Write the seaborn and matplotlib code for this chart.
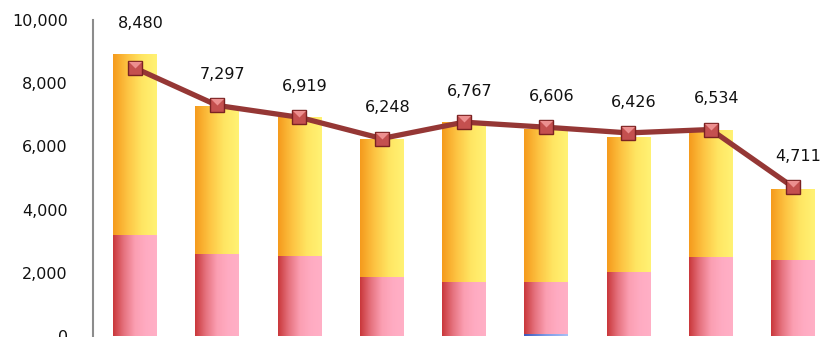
import numpy as np
import pandas as pd
import matplotlib
matplotlib.use("Agg")
import matplotlib.pyplot as plt
from matplotlib.colors import LinearSegmentedColormap
import seaborn as sns

# ---- data ----
periods = ["P1", "P2", "P3", "P4", "P5", "P6", "P7", "P8", "P9"]
base_part = [0, 0, 0, 0, 0, 60, 0, 0, 0]                       # blue, bottom
lower_part = [3180, 2580, 2540, 1870, 1700, 1630, 2020, 2490, 2410]  # red/pink
upper_part = [5750, 4700, 4400, 4350, 5060, 4870, 4270, 4030, 2250]  # orange/yellow
line_values = [8480, 7297, 6919, 6248, 6767, 6606, 6426, 6534, 4711]
y_ticks = [0, 2000, 4000, 6000, 8000, 10000]

sns.set_theme(style="white")
plt.rcParams["font.family"] = ["DejaVu Sans"]

fig = plt.figure(figsize=(8.28, 3.37), dpi=100)
ax = fig.add_axes([0.1123, 0.0036, 0.8877, 0.9368])

df = pd.DataFrame({
    "period": periods,
    "base": base_part,
    "lower": np.add(base_part, lower_part),
    "upper": np.add(np.add(base_part, lower_part), upper_part),
})

cmap_upper = LinearSegmentedColormap.from_list(
    "upper", ["#f59a1c", "#fdc443", "#ffe663", "#fff274"])
cmap_lower = LinearSegmentedColormap.from_list(
    "lower", ["#c9373a", "#e6737f", "#fb9fb2", "#ffabc2", "#ffb0c6"])
cmap_base = LinearSegmentedColormap.from_list(
    "base", ["#3d57b8", "#7b9ae6", "#a8c0f5"])

grad = np.linspace(0, 1, 256).reshape(1, -1)


def gradient_layer(column, cmap, z):
    n_before = len(ax.patches)
    sns.barplot(data=df, x="period", y=column, width=0.53, ax=ax,
                color="white", saturation=1, zorder=z, errorbar=None)
    for patch in ax.patches[n_before:]:
        h = patch.get_height()
        patch.set_facecolor("none")
        patch.set_edgecolor("none")
        if h <= 0:
            continue
        x0, w, y0 = patch.get_x(), patch.get_width(), patch.get_y()
        im = ax.imshow(grad, extent=[x0, x0 + w, y0, y0 + h],
                       cmap=cmap, aspect="auto", zorder=z,
                       interpolation="bicubic")
        im.set_clip_path(patch)


gradient_layer("upper", cmap_upper, 1)
gradient_layer("lower", cmap_lower, 2)
gradient_layer("base", cmap_base, 3)

# line with square markers
xpos = np.arange(len(periods))
sns.lineplot(x=xpos, y=line_values, ax=ax, color="#953735", linewidth=3.8,
             marker="s", markersize=10.5, markerfacecolor="#c4504f",
             markeredgecolor="#7a2222", markeredgewidth=1.0, zorder=5)
tri = [(-1, 1), (1, 1), (0, 0)]
ax.plot(xpos, line_values, linestyle="none", marker=tri, markersize=9.5,
        markerfacecolor="#ec8f8f", markeredgecolor="none", zorder=6)

# value labels
for i, v in enumerate(line_values):
    top = max(v, df["upper"].iloc[i])
    ax.annotate(f"{v:,}", xy=(i, top), xytext=(4, 22),
                textcoords="offset points", ha="center", va="center",
                fontsize=11.5, color="#111111", zorder=7)

ax.set_xlim(-0.511, 8.426)
ax.set_ylim(0, 10000)
ax.set_yticks(y_ticks)
ax.set_yticklabels([f"{t:,}" for t in y_ticks])
ax.tick_params(axis="y", length=0, pad=18, labelsize=11.5, colors="#111111")
ax.set_xticks([])
ax.set_xlabel("")
ax.set_ylabel("")
for side in ["top", "right", "bottom"]:
    ax.spines[side].set_visible(False)
ax.spines["left"].set_color("#8c8c8c")
ax.spines["left"].set_linewidth(1.5)
ax.spines["left"].set_zorder(8)
ax.patch.set_alpha(0)

fig.savefig("out.png", dpi=100)
